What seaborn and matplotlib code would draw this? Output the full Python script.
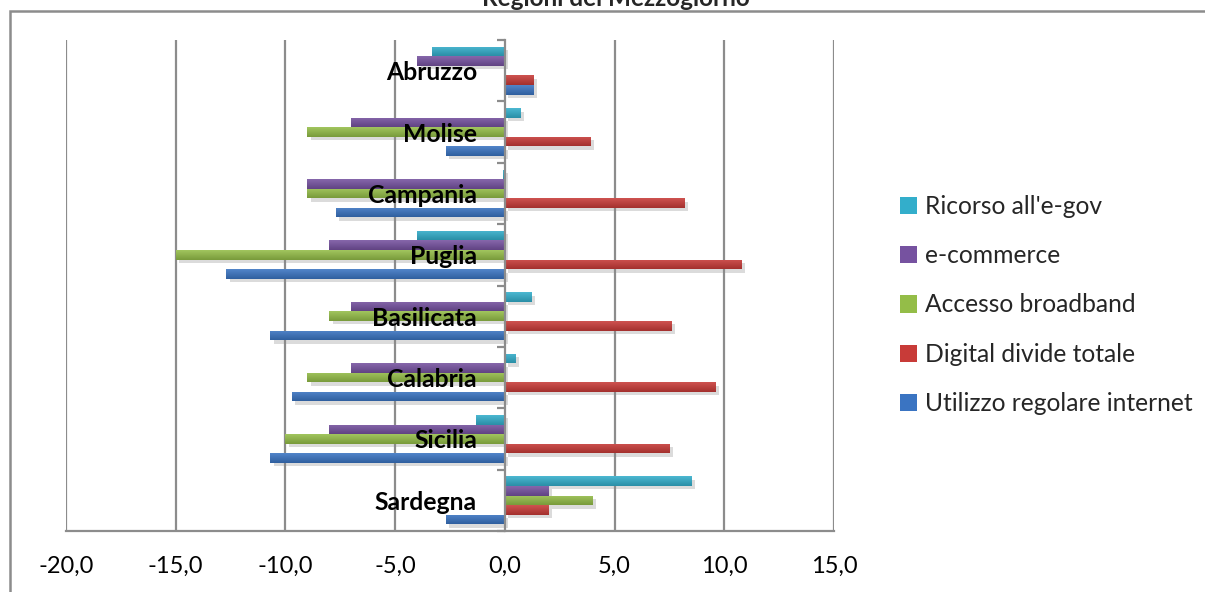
import numpy as np
import pandas as pd
import matplotlib
matplotlib.use("Agg")
import matplotlib.pyplot as plt
import matplotlib.patheffects as pe
from matplotlib.patches import Patch, Rectangle
from matplotlib.colors import to_rgb
from matplotlib.ticker import FuncFormatter, FixedLocator
import seaborn as sns

# Regions (top to bottom) and the five indicators
regions = ["Abruzzo", "Molise", "Campania", "Puglia", "Basilicata",
           "Calabria", "Sicilia", "Sardegna"]
series_names = ["Ricorso all'e-gov", "e-commerce", "Accesso broadband",
                "Digital divide totale", "Utilizzo regolare internet"]
ricorso_egov = [-3.3, 0.7, -0.1, -4.0, 1.2, 0.5, -1.3, 8.5]
e_commerce = [-4.0, -7.0, -9.0, -8.0, -7.0, -7.0, -8.0, 2.0]
accesso_broadband = [0.0, -9.0, -9.0, -15.0, -8.0, -9.0, -10.0, 4.0]
digital_divide = [1.3, 3.9, 8.2, 10.8, 7.6, 9.6, 7.5, 2.0]
utilizzo_internet = [1.3, -2.7, -7.7, -12.7, -10.7, -9.7, -10.7, -2.7]
x_ticks = [-20, -15, -10, -5, 0, 5, 10, 15]

colors = ["#33AECB", "#7652A0", "#94BD48", "#C83B38", "#3A74C2"]

values = [ricorso_egov, e_commerce, accesso_broadband, digital_divide, utilizzo_internet]
df = pd.DataFrame({
    "Regione": regions * len(series_names),
    "Serie": np.repeat(series_names, len(regions)),
    "Valore": np.concatenate(values),
})

sns.set_theme(style="white")
plt.rcParams["font.family"] = ["Lato", "DejaVu Sans"]

fig = plt.figure(figsize=(12.05, 5.92), dpi=100)
ax = fig.add_axes([66 / 1205, 1 - 531 / 592, (834 - 66) / 1205, (531 - 40) / 592])

sns.barplot(data=df, y="Regione", x="Valore", hue="Serie", order=regions,
            hue_order=series_names, palette=colors, orient="h",
            width=0.78, ax=ax, legend=False, saturation=1)

shadow = [pe.SimplePatchShadow(offset=(2.5, -2.5), shadow_rgbFace="#8a8a8a", alpha=0.3),
          pe.Normal()]


def shade(rgb, f):
    rgb = np.array(rgb)
    return np.clip(rgb * f if f < 1 else rgb + (1 - rgb) * (f - 1), 0, 1)


# each bar gets a soft vertical gradient: lighter top edge, darker bottom edge
for bar in list(ax.patches):
    bar.set_edgecolor("none")
    bar.set_path_effects(shadow)
    w = bar.get_width()
    if abs(w) < 1e-9:
        continue
    x0, y0, h = bar.get_x(), bar.get_y(), bar.get_height()
    base = to_rgb(bar.get_facecolor())
    t = np.linspace(0, 1, 32)[:, None]
    top, bot = shade(base, 1.12), shade(base, 0.82)
    grad = (top[None, :] * (1 - t) + bot[None, :] * t)[:, None, :]
    im = ax.imshow(grad, extent=(x0, x0 + w, y0 + h, y0), aspect="auto",
                   interpolation="bilinear", zorder=bar.get_zorder() + 0.01)
    im.set_clip_path(bar)

ax.set_xlim(-20, 15)
ax.set_ylim(len(regions) - 0.5, -0.5)
ax.set_aspect("auto")

# vertical gridlines behind the bars
for xv in x_ticks:
    if xv != 0:
        ax.axvline(xv, color="#8c8c8c", lw=1.6, zorder=0)

ax.set_axisbelow(False)
ax.xaxis.set_major_locator(FixedLocator(x_ticks))
ax.xaxis.set_major_formatter(FuncFormatter(lambda v, p: f"{v:.1f}".replace(".", ",")))

for side in ["top", "right"]:
    ax.spines[side].set_visible(False)
ax.spines["left"].set_position(("data", 0))
for side in ["left", "bottom"]:
    ax.spines[side].set_color("#8c8c8c")
    ax.spines[side].set_linewidth(1.6)
    ax.spines[side].set_zorder(3)

ax.tick_params(axis="x", which="major", direction="out", length=7, width=1.6,
               color="#8c8c8c", labelsize=17, pad=11, labelcolor="black")
ax.yaxis.set_minor_locator(FixedLocator(np.arange(-0.5, len(regions), 1.0)))
ax.tick_params(axis="y", which="minor", direction="out", length=6, width=1.6,
               color="#8c8c8c", left=True)
ax.tick_params(axis="y", which="major", length=0, pad=20, labelsize=17.8,
               labelcolor="black")
for lab in ax.get_yticklabels():
    lab.set_fontweight("bold")
    lab.set_zorder(5)
ax.set_xlabel("")
ax.set_ylabel("")

# legend with small square keys
handles = [Patch(facecolor=c, edgecolor="none") for c in colors]
fig.legend(handles, series_names, loc="center left",
           bbox_to_anchor=(878 / 1205, 1 - 305 / 592), frameon=False,
           fontsize=17.7, handlelength=0.7, handleheight=0.7,
           handletextpad=0.3, labelspacing=1.07)

fig.text(616 / 1205, 1 - 6 / 592, "Regioni del Mezzogiorno", ha="center",
         va="baseline", fontsize=17.5, fontweight="bold")

# chart area frame
fig.patches.append(Rectangle((9.5 / 1205, -0.1), 1.2, 1 - 11 / 592 + 0.1,
                             transform=fig.transFigure, fill=False,
                             edgecolor="#8c8c8c", lw=1.8))

fig.savefig("out.png", dpi=100)
